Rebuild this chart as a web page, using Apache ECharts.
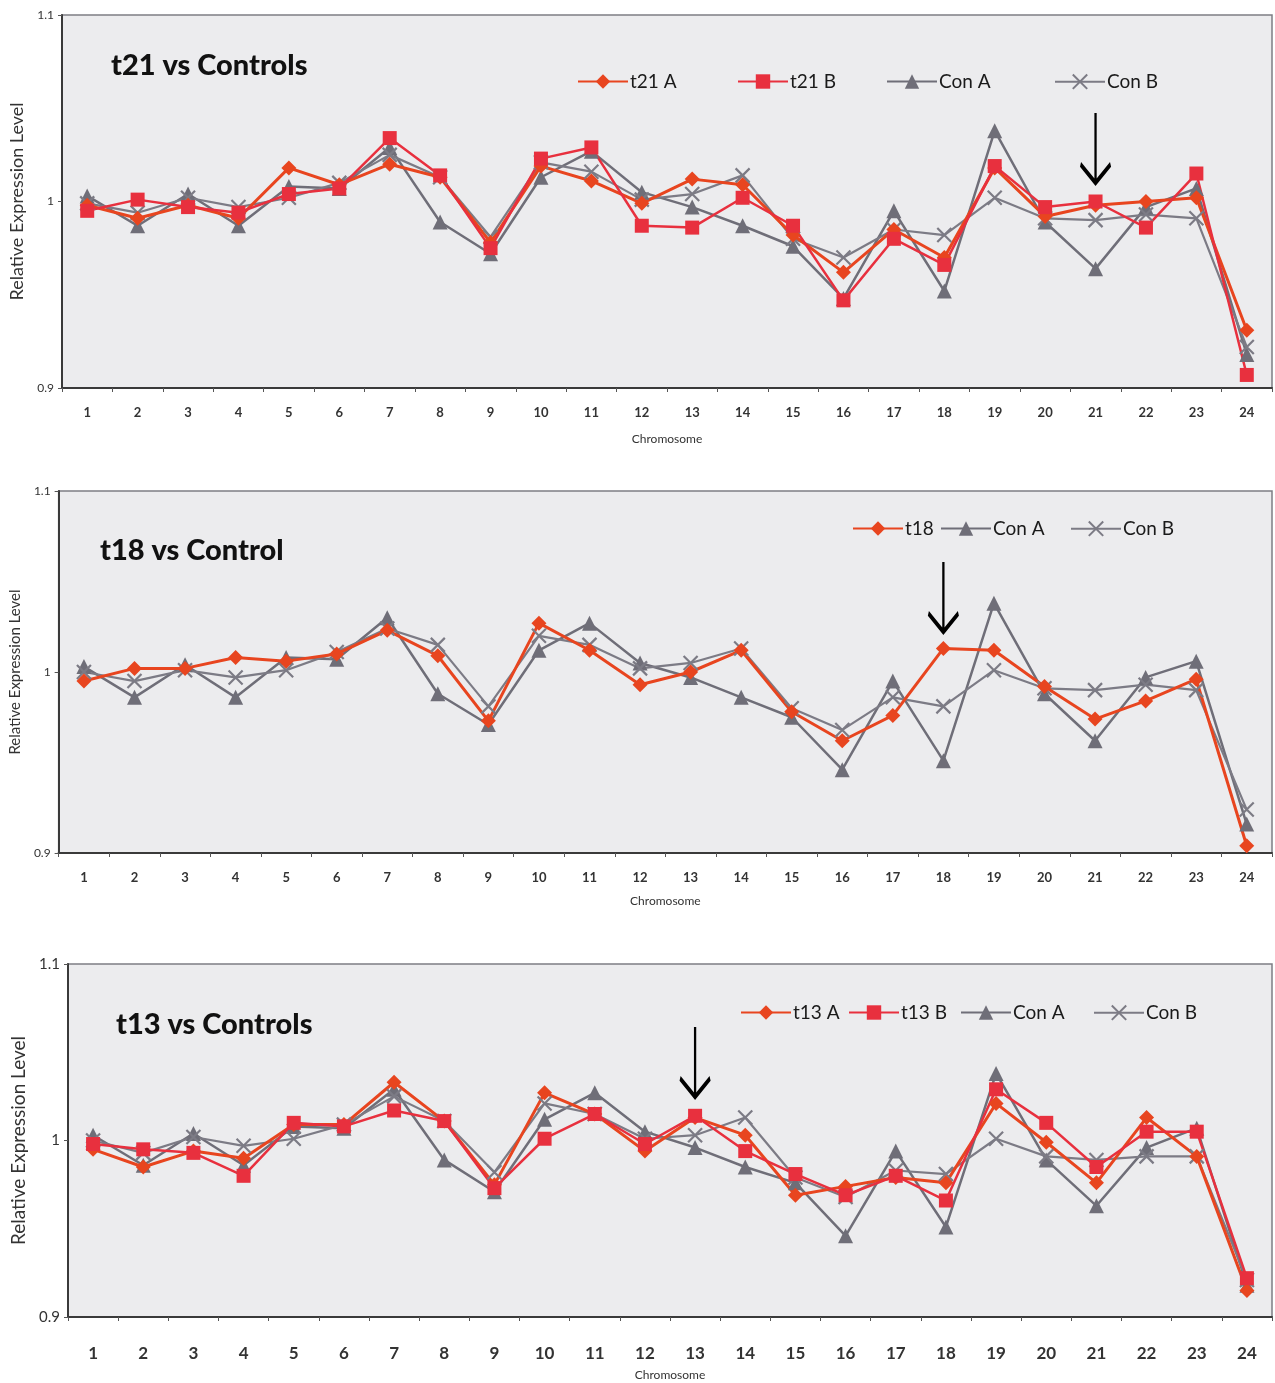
<!DOCTYPE html>
<html>
<head>
<meta charset="utf-8">
<title>Relative Expression Level by Chromosome</title>
<script src="https://cdn.jsdelivr.net/npm/echarts@6/dist/echarts.min.js"></script>
<style>
  html, body { margin: 0; padding: 0; background: #ffffff; }
  #chart { width: 1275px; height: 1383px; }
</style>
</head>
<body>
<div id="chart"></div>
<script>
// Chromosome categories (shared by all three panels)
const chromosomes = ['1','2','3','4','5','6','7','8','9','10','11','12','13','14','15','16','17','18','19','20','21','22','23','24'];
const yTicks = [0.9, 1.0, 1.1];

// Panel 1: t21 vs Controls
const t21A  = [0.998, 0.991, 0.998, 0.991, 1.018, 1.009, 1.020, 1.013, 0.978, 1.019, 1.011, 0.999, 1.012, 1.009, 0.982, 0.962, 0.985, 0.970, 1.018, 0.992, 0.998, 1.000, 1.002, 0.931];
const t21B  = [0.995, 1.001, 0.997, 0.994, 1.004, 1.007, 1.034, 1.014, 0.975, 1.023, 1.029, 0.987, 0.986, 1.002, 0.987, 0.947, 0.980, 0.966, 1.019, 0.997, 1.000, 0.986, 1.015, 0.907];
const conA1 = [1.003, 0.987, 1.004, 0.987, 1.008, 1.007, 1.029, 0.989, 0.972, 1.013, 1.027, 1.005, 0.997, 0.987, 0.976, 0.948, 0.995, 0.952, 1.038, 0.989, 0.964, 0.997, 1.007, 0.918];
const conB1 = [0.999, 0.994, 1.002, 0.997, 1.002, 1.010, 1.025, 1.013, 0.981, 1.021, 1.016, 1.001, 1.004, 1.014, 0.980, 0.970, 0.985, 0.982, 1.002, 0.991, 0.990, 0.993, 0.991, 0.922];

// Panel 2: t18 vs Control
const t18   = [0.995, 1.002, 1.002, 1.008, 1.006, 1.010, 1.023, 1.009, 0.973, 1.027, 1.012, 0.993, 1.000, 1.012, 0.978, 0.962, 0.976, 1.013, 1.012, 0.992, 0.974, 0.984, 0.996, 0.904];
const conA2 = [1.003, 0.986, 1.004, 0.986, 1.008, 1.007, 1.030, 0.988, 0.971, 1.012, 1.027, 1.005, 0.997, 0.986, 0.975, 0.946, 0.995, 0.951, 1.038, 0.988, 0.962, 0.997, 1.006, 0.916];
const conB2 = [1.000, 0.995, 1.001, 0.997, 1.001, 1.011, 1.024, 1.015, 0.981, 1.020, 1.015, 1.002, 1.005, 1.013, 0.980, 0.968, 0.986, 0.981, 1.001, 0.991, 0.990, 0.993, 0.990, 0.924];

// Panel 3: t13 vs Controls
const t13A  = [0.995, 0.985, 0.994, 0.990, 1.009, 1.009, 1.033, 1.011, 0.975, 1.027, 1.015, 0.994, 1.013, 1.003, 0.969, 0.974, 0.979, 0.976, 1.021, 0.999, 0.976, 1.013, 0.991, 0.915];
const t13B  = [0.998, 0.995, 0.993, 0.980, 1.010, 1.008, 1.017, 1.011, 0.973, 1.001, 1.015, 0.998, 1.014, 0.994, 0.981, 0.969, 0.980, 0.966, 1.029, 1.010, 0.985, 1.005, 1.005, 0.922];
const conA3 = [1.003, 0.986, 1.004, 0.986, 1.008, 1.007, 1.029, 0.989, 0.971, 1.012, 1.027, 1.005, 0.996, 0.985, 0.976, 0.946, 0.994, 0.951, 1.038, 0.989, 0.963, 0.996, 1.007, 0.918];
const conB3 = [1.000, 0.993, 1.002, 0.997, 1.001, 1.009, 1.025, 1.011, 0.982, 1.021, 1.015, 1.001, 1.003, 1.013, 0.979, 0.968, 0.983, 0.981, 1.001, 0.991, 0.989, 0.991, 0.991, 0.921];

// Arrow annotations: [chromosome, upper value, lower value]
const arrow1 = ['21', 1.0475, 1.010];
const arrow2 = ['18', 1.060, 1.023];
const arrow3 = ['13', 1.0635, 1.0255];

const FONT = 'Lato, "Open Sans", sans-serif';
const ORANGE = '#e8451f';
const RED = '#e8303e';
const GRAY_A = '#6f6e78';
const GRAY_B = '#7c7b85';
const X_SYMBOL = 'path://M0,0 L10,10 M10,0 L0,10';
const ARROW_SYMBOL = 'path://M15,0 L15,68 M3,50 L15,68 L27,50';

const styles = {
  tA:   { color: ORANGE, symbol: 'diamond', size: 15, width: 3 },
  tB:   { color: RED, symbol: 'rect', size: 14, width: 2.5 },
  conA: { color: GRAY_A, symbol: 'triangle', size: 15, width: 2.5 },
  conB: { color: GRAY_B, symbol: X_SYMBOL, size: 14, width: 2.2 }
};

function lineSeries(name, data, kind, idx) {
  const s = styles[kind];
  const isX = kind === 'conB';
  return {
    type: 'line',
    name: name,
    data: data,
    xAxisIndex: idx,
    yAxisIndex: idx,
    symbol: s.symbol,
    symbolSize: s.size,
    showAllSymbol: true,
    animation: false,
    lineStyle: { color: s.color, width: s.width },
    itemStyle: isX
      ? { color: 'none', borderColor: s.color, borderWidth: 2.2 }
      : { color: s.color, borderWidth: 0 }
  };
}

function arrowMark(a) {
  return {
    symbol: ARROW_SYMBOL,
    symbolSize: [30, 70],
    symbolKeepAspect: false,
    silent: true,
    label: { show: false },
    itemStyle: { color: 'none', borderColor: '#000', borderWidth: 3.5 },
    data: [{ coord: [a[0], (a[1] + a[2]) / 2] }]
  };
}

const grids = [
  { left: 62, top: 15, right: 3, height: 373 },
  { left: 55, top: 491, right: 3, height: 362 },
  { left: 68, top: 964, right: 3, height: 353 }
];
const xLabelSize = [13, 13, 17];
const xLabelMargin = [18, 18, 28];
const yNameSize = [18, 15, 19];
const yLabelSize = [12, 12, 15];
const nameGapX = [45, 42, 52];

// Legend entries: [series name, left edge, vertical centre]
const legendItems = [
  ['t21 A', 577, 81], ['t21 B', 737, 81], ['Con A', 886, 81], ['Con B', 1054, 81],
  ['t18', 852, 528], ['Con A ', 940, 528], ['Con B ', 1070, 528],
  ['t13 A', 740, 1012], ['t13 B', 848, 1012], ['Con A  ', 960, 1012], ['Con B  ', 1093, 1012]
];

const option = {
  backgroundColor: '#ffffff',
  animation: false,
  grid: grids.map(g => Object.assign({
    show: true,
    backgroundColor: '#ececee',
    borderColor: '#7d7d84',
    borderWidth: 1.5
  }, g)),
  xAxis: grids.map((g, i) => ({
    type: 'category',
    gridIndex: i,
    data: chromosomes,
    boundaryGap: true,
    name: 'Chromosome',
    nameLocation: 'middle',
    nameGap: nameGapX[i],
    nameTextStyle: { fontFamily: FONT, fontSize: 12, color: '#333' },
    axisLine: { lineStyle: { color: '#3a3a3a', width: 2 } },
    axisTick: { show: true, length: 4, inside: false, lineStyle: { color: '#555' } },
    axisLabel: { fontFamily: FONT, fontSize: xLabelSize[i], color: '#333', fontWeight: 'bold', margin: xLabelMargin[i] },
    splitLine: { show: false }
  })),
  yAxis: grids.map((g, i) => ({
    type: 'value',
    gridIndex: i,
    min: yTicks[0],
    max: yTicks[2],
    interval: 0.1,
    name: 'Relative Expression Level',
    nameLocation: 'middle',
    nameRotate: 90,
    nameGap: i === 1 ? 30 : (i === 2 ? 36 : 32),
    nameTextStyle: { fontFamily: FONT, fontSize: yNameSize[i], color: '#333' },
    axisLine: { show: true, lineStyle: { color: '#3a3a3a', width: 2 } },
    axisTick: { show: true, length: 4, lineStyle: { color: '#555' } },
    axisLabel: {
      fontFamily: FONT, fontSize: yLabelSize[i], color: '#333', margin: 8,
      formatter: v => (Math.abs(v - 1) < 1e-9 ? '1' : v.toFixed(1))
    },
    splitLine: { show: false }
  })),
  title: [
    { text: 't21 vs Controls', left: 106, top: 46 },
    { text: 't18 vs Control', left: 95, top: 531 },
    { text: 't13 vs Controls', left: 111, top: 1005 }
  ].map(t => Object.assign(t, {
    textStyle: { fontFamily: FONT, fontSize: 29, fontWeight: 900, color: '#111' }
  })),
  legend: legendItems.map(([name, left, cy]) => ({
    left: left,
    top: cy - 9,
    padding: 0,
    data: [name],
    itemWidth: 50,
    itemHeight: 18,
    textStyle: { fontFamily: FONT, fontSize: 19, color: '#1a1a1a', padding: [0, 0, 0, -3] }
  })),
  series: [
    lineSeries('Con A', conA1, 'conA', 0),
    lineSeries('Con B', conB1, 'conB', 0),
    lineSeries('t21 A', t21A, 'tA', 0),
    Object.assign(lineSeries('t21 B', t21B, 'tB', 0), { markPoint: arrowMark(arrow1) }),

    lineSeries('Con A ', conA2, 'conA', 1),
    lineSeries('Con B ', conB2, 'conB', 1),
    Object.assign(lineSeries('t18', t18, 'tA', 1), { markPoint: arrowMark(arrow2) }),

    lineSeries('Con A  ', conA3, 'conA', 2),
    lineSeries('Con B  ', conB3, 'conB', 2),
    lineSeries('t13 A', t13A, 'tA', 2),
    Object.assign(lineSeries('t13 B', t13B, 'tB', 2), { markPoint: arrowMark(arrow3) })
  ]
};

const chart = echarts.init(document.getElementById('chart'), null, { renderer: 'canvas' });
chart.setOption(option);
</script>
</body>
</html>
